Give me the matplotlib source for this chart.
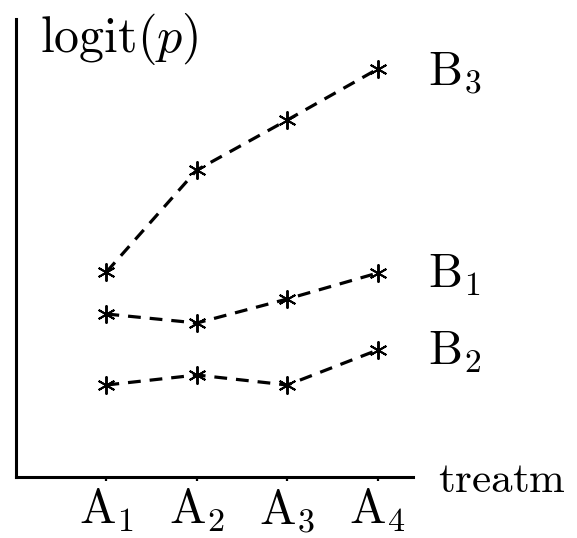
import matplotlib
matplotlib.use("Agg")
import matplotlib.pyplot as plt

plt.rcParams['mathtext.fontset'] = 'cm'
plt.rcParams['font.family'] = 'serif'
plt.rcParams['font.serif'] = ['cmr10', 'DejaVu Serif']
plt.rcParams['axes.formatter.use_mathtext'] = True

# datos (escala logit)
tratamientos = [1, 2, 3, 4]
etiquetas_a = [r'$\mathrm{A}_1$', r'$\mathrm{A}_2$', r'$\mathrm{A}_3$', r'$\mathrm{A}_4$']
b1 = [1.63, 1.54, 1.78, 2.04]
b2 = [0.92, 1.02, 0.92, 1.27]
b3 = [2.05, 3.07, 3.57, 4.08]
series = [(b3, r'$\mathrm{B}_3$'), (b1, r'$\mathrm{B}_1$'), (b2, r'$\mathrm{B}_2$')]

fig = plt.figure(figsize=(5.77, 5.38), dpi=100)
ax = fig.add_axes([16 / 577, 61 / 538, 397 / 577, 458 / 538])

for valores, nombre in series:
    ax.plot(tratamientos, valores, color='black', lw=2.3,
            linestyle=(0, (4.0, 2.8)), marker=(6, 2, 0), markersize=13,
            markeredgewidth=1.4)
    ax.annotate(nombre, xy=(tratamientos[-1], valores[-1]),
                xytext=(50, -15), textcoords='offset pixels',
                fontsize=34.5, va='baseline', ha='left', annotation_clip=False)

ax.set_xlim(0, 4.39)
ax.set_ylim(0, 4.58)
ax.set_xticks(tratamientos)
ax.set_xticklabels(etiquetas_a, fontsize=35)
ax.set_yticks([])
ax.tick_params(axis='x', direction='out', length=3, width=1.6, pad=4)

for lado in ['top', 'right']:
    ax.spines[lado].set_visible(False)
for lado in ['left', 'bottom']:
    ax.spines[lado].set_linewidth(2.2)

ax.text(0.06, 0.928, r'$\mathrm{logit}(p)$', transform=ax.transAxes,
        fontsize=36, va='baseline', ha='left')
ax.text(1.063, -0.033, r'$\mathrm{treatm}$', transform=ax.transAxes,
        fontsize=31, va='baseline', ha='left', clip_on=False)

fig.savefig("out.png", dpi=100)
